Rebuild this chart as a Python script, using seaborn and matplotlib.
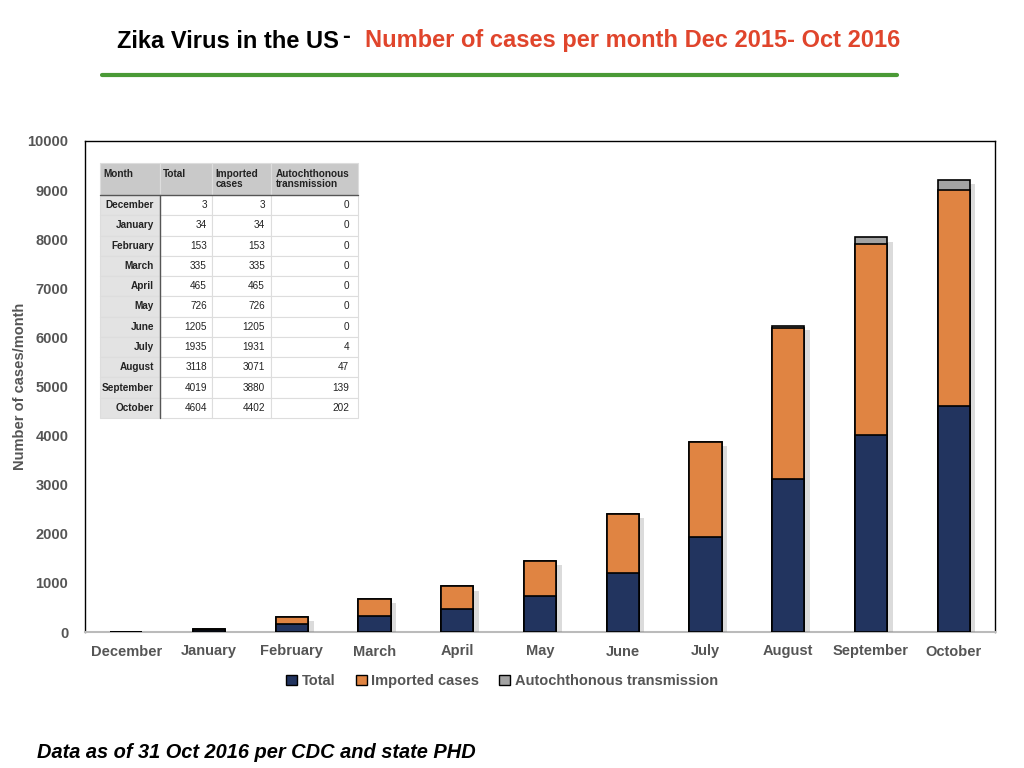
import matplotlib
matplotlib.use("Agg")
import matplotlib.pyplot as plt
import matplotlib.patheffects as pe
from matplotlib.lines import Line2D
from matplotlib.patches import Patch
import numpy as np
import seaborn as sns

months = ["December", "January", "February", "March", "April", "May",
          "June", "July", "August", "September", "October"]
total = [3, 34, 153, 335, 465, 726, 1205, 1935, 3118, 4019, 4604]
imported = [3, 34, 153, 335, 465, 726, 1205, 1931, 3071, 3880, 4402]
autochthonous = [0, 0, 0, 0, 0, 0, 0, 4, 47, 139, 202]

series_names = ["Total", "Imported cases", "Autochthonous transmission"]
colors = ["#22345f", "#e08442", "#a3a3a3"]
grey_text = "#555555"


def plot_chart():
    sns.set_theme(style="white")
    plt.rcParams["font.family"] = ["Liberation Sans", "DejaVu Sans"]

    fig = plt.figure(figsize=(10.24, 7.68), dpi=100)
    ax = fig.add_axes([85 / 1024, 1 - 632 / 768, 910 / 1024, 491 / 768])

    # stacked bars: draw cumulative layers, tallest first
    layers = [total, imported, autochthonous]
    cum = np.cumsum(np.array(layers), axis=0)
    for i in [2, 1, 0]:
        n_before = len(ax.patches)
        sns.barplot(x=months, y=cum[i], color=colors[i], saturation=1,
                    width=0.39, edgecolor="black", linewidth=1.2,
                    errorbar=None, ax=ax)
        for p in ax.patches[n_before:]:
            p.set_zorder(3 + (2 - i) * 0.1)
            if i == 2:
                p.set_path_effects([
                    pe.SimplePatchShadow(offset=(4, -3), shadow_rgbFace="#888888", alpha=0.3),
                    pe.Normal(),
                ])

    ax.set_xlim(-0.5, 10.5)
    ax.set_ylim(0, 10000)
    ax.set_yticks(range(0, 10001, 1000))
    ax.tick_params(axis="both", length=0, labelsize=10.5, labelcolor=grey_text)
    ax.tick_params(axis="y", pad=12)
    ax.tick_params(axis="x", pad=9)
    for lab in ax.get_xticklabels() + ax.get_yticklabels():
        lab.set_fontweight("bold")
    ax.set_ylabel("Number of cases/month", fontsize=10.5, fontweight="bold",
                  color=grey_text)
    ax.yaxis.set_label_coords(-0.064, 0.5)

    for side in ["left", "top", "right"]:
        ax.spines[side].set_color("black")
        ax.spines[side].set_linewidth(1.0)
    ax.spines["bottom"].set_color("#bbbbbb")
    ax.spines["bottom"].set_linewidth(1.5)

    # data table in the upper left corner
    cell_text = [[str(t), str(im), str(a)] for t, im, a in zip(total, imported, autochthonous)]
    rows = [["Month\n", "Total\n", "Imported\ncases", "Autochthonous\ntransmission"]]
    rows += [[m] + r for m, r in zip(months, cell_text)]
    col_w = [60, 52, 59, 87]
    tbl = ax.table(cellText=rows, cellLoc="right",
                   bbox=[15 / 910, (632 - 418) / 491, 258 / 910, 255 / 491])
    tbl.set_zorder(6)
    tbl.auto_set_font_size(False)
    for (r, c), cell in tbl.get_celld().items():
        cell.set_width(col_w[c])
        cell.set_height(32 if r == 0 else 20.3)
        cell.set_edgecolor("#dddddd")
        cell.set_linewidth(0.8)
        txt = cell.get_text()
        txt.set_fontsize(7.2)
        txt.set_color("#222222")
        if r == 0:
            cell.set_facecolor("#c9c9c9")
            txt.set_fontweight("bold")
            txt.set_ha("left")
            txt.set_linespacing(1.05)
            cell._loc = "left"
            cell.PAD = 0.06
        elif c == 0:
            cell.set_facecolor("#e3e3e3")
            txt.set_fontweight("bold")
        else:
            cell.set_facecolor("white")
    # darker separators (under header, right of month column)
    ax.add_line(Line2D([15 / 910, 273 / 910], [(632 - 195) / 491] * 2,
                       transform=ax.transAxes, color="#555555", lw=1, zorder=7))
    ax.add_line(Line2D([75 / 910] * 2, [(632 - 418) / 491, (632 - 195) / 491],
                       transform=ax.transAxes, color="#555555", lw=1, zorder=7))

    # legend under the axis
    handles = [Patch(facecolor=c, edgecolor="black", linewidth=1) for c in colors]
    leg = fig.legend(handles, series_names, loc="center", ncol=3, frameon=False,
                     bbox_to_anchor=(502 / 1024, 1 - 681 / 768),
                     handlelength=0.75, handleheight=0.75, handletextpad=0.3,
                     columnspacing=1.4, fontsize=10.5)
    for t in leg.get_texts():
        t.set_color(grey_text)
        t.set_fontweight("bold")

    # slide title, rule and footnote
    fig.text(117 / 1024, 1 - 41 / 768, "Zika Virus in the US", fontsize=17,
             fontweight="bold", color="black", va="center", ha="left")
    fig.text(342 / 1024, 1 - 37 / 768, "-", fontsize=17,
             fontweight="bold", color="black", va="center", ha="left")
    fig.text(365 / 1024, 1 - 41 / 768, "Number of cases per month Dec 2015- Oct 2016",
             fontsize=17, fontweight="bold", color="#e0452c", va="center", ha="left")
    fig.add_artist(Line2D([102 / 1024, 897 / 1024], [1 - 75 / 768] * 2,
                          color="#4a9a36", lw=3))
    fig.text(37 / 1024, 1 - 752 / 768, "Data as of 31 Oct 2016 per CDC and state PHD",
             fontsize=14.4, fontweight="bold", fontstyle="italic", color="black",
             va="center", ha="left")

    fig.savefig("out.png", dpi=100)


def main():
    plot_chart()


if __name__ == "__main__":
    main()
